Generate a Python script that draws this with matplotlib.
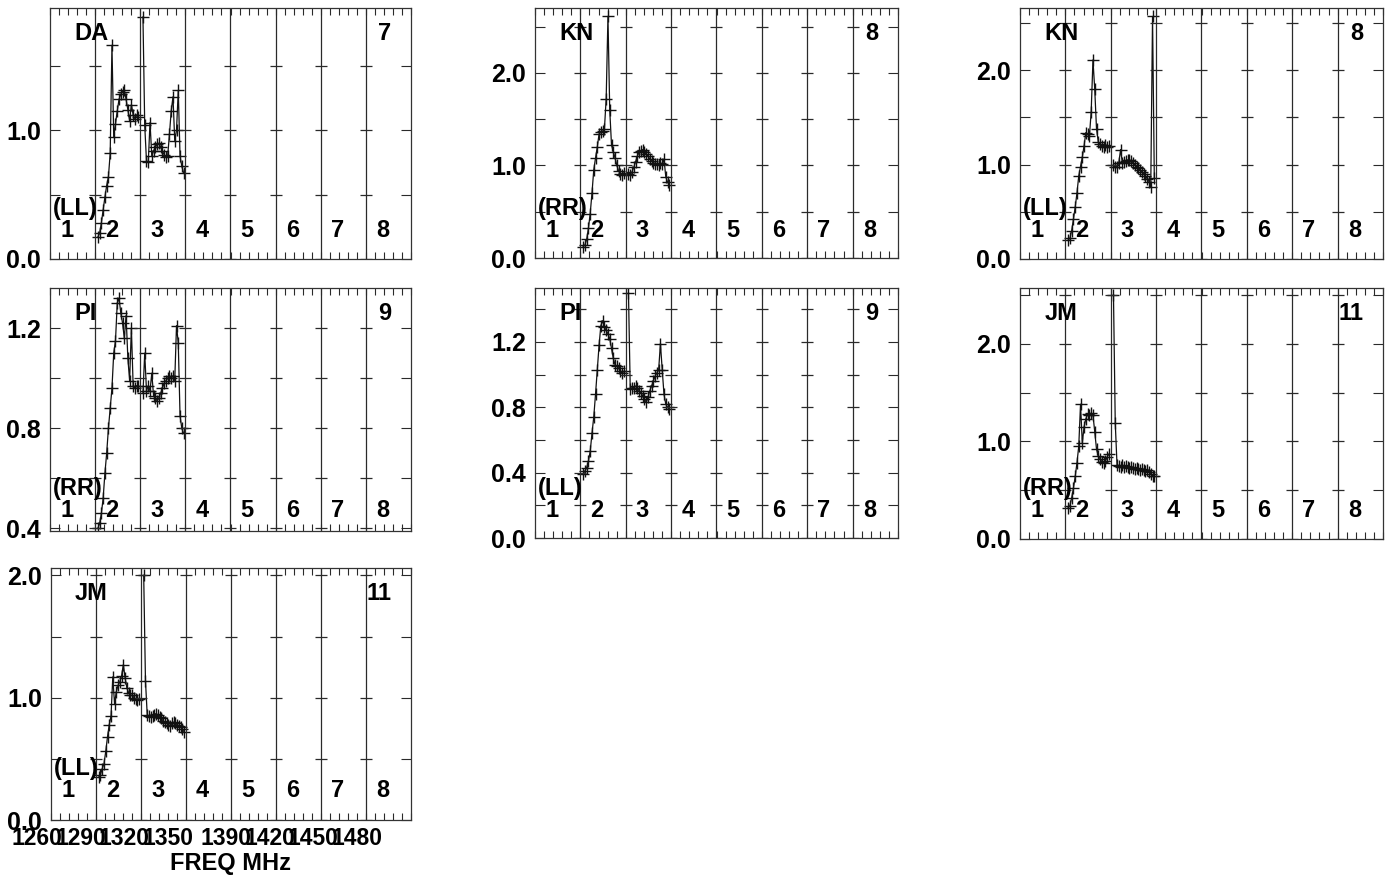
import matplotlib.pyplot as plt
import numpy as np

plt.rcParams['font.family'] = ['Liberation Sans', 'DejaVu Sans']
plt.rcParams['font.weight'] = 'bold'

# frequency axis: 8 IFs of 31 MHz, only IF 2 and IF 3 carry data
FREQ_LO = 1269.5
IF_WIDTH = 31.0
N_IF = 8
freq_labels = [1260, 1290, 1320, 1350, 1390, 1420, 1450, 1480]

stations = ['DA', 'KN', 'KN', 'PI', 'PI', 'JM', 'JM']
pols = ['(LL)', '(RR)', '(LL)', '(RR)', '(LL)', '(RR)', '(LL)']
plot_nums = ['7', '8', '8', '9', '9', '11', '11']

# bandpass amplitudes, 24 channels per IF
if2_amp = [
    [0.17, 0.20, 0.28, 0.38, 0.48, 0.57, 0.64, 0.82, 1.66, 0.95, 1.05, 1.15,
     1.24, 1.28, 1.30, 1.31, 1.24, 1.16, 1.07, 1.20, 1.12, 1.09, 1.12, 1.10],
    [0.12, 0.14, 0.20, 0.32, 0.48, 0.70, 0.95, 1.08, 1.20, 1.34, 1.36, 1.37,
     1.39, 1.72, 2.61, 1.60, 1.22, 1.15, 1.08, 1.00, 0.94, 0.91, 0.90, 0.92],
    [0.20, 0.22, 0.30, 0.42, 0.55, 0.70, 0.88, 0.98, 1.08, 1.20, 1.34, 1.32,
     1.30, 1.56, 2.11, 1.80, 1.38, 1.24, 1.22, 1.20, 1.19, 1.21, 1.19, 1.20],
    [0.40, 0.42, 0.46, 0.52, 0.62, 0.70, 0.80, 0.88, 0.96, 1.10, 1.15, 1.30,
     1.32, 1.26, 1.22, 1.16, 1.25, 1.08, 0.99, 1.20, 0.97, 0.96, 0.97, 0.97],
    [0.39, 0.41, 0.43, 0.47, 0.53, 0.64, 0.74, 0.88, 1.03, 1.18, 1.30, 1.33,
     1.29, 1.27, 1.25, 1.22, 1.16, 1.10, 1.06, 1.05, 1.04, 1.02, 1.01, 1.02],
    [0.32, 0.34, 0.42, 0.52, 0.64, 0.78, 0.95, 1.38, 0.98, 1.15, 1.23, 1.28,
     1.27, 1.29, 1.27, 1.10, 0.92, 0.85, 0.82, 0.79, 0.78, 0.80, 0.84, 0.87],
    [0.35, 0.37, 0.42, 0.46, 0.56, 0.68, 0.78, 0.85, 1.17, 0.95, 1.05, 1.10,
     1.13, 1.18, 1.27, 1.16, 1.08, 1.04, 1.02, 1.02, 1.00, 0.99, 0.98, 0.99],
]
if3_amp = [
    [1.88, 1.04, 0.76, 0.75, 1.06, 0.80, 0.84, 0.87, 0.89, 0.90, 0.87, 0.84,
     0.81, 0.79, 0.80, 0.97, 1.15, 1.26, 0.92, 1.00, 1.31, 0.80, 0.72, 0.67],
    [0.91, 0.90, 0.93, 0.98, 1.04, 1.10, 1.14, 1.16, 1.17, 1.15, 1.12, 1.10,
     1.07, 1.05, 1.03, 1.02, 1.01, 1.00, 1.03, 1.01, 1.07, 0.88, 0.82, 0.79],
    [1.00, 0.97, 0.98, 1.02, 1.16, 1.02, 1.03, 1.04, 1.05, 1.05, 1.04, 1.02,
     1.00, 0.98, 0.96, 0.94, 0.92, 0.90, 0.88, 0.85, 0.82, 0.76, 2.57, 0.86],
    [0.94, 1.10, 0.95, 0.97, 0.95, 1.02, 0.93, 0.92, 0.91, 0.92, 0.94, 0.96,
     0.98, 0.99, 1.00, 1.01, 1.00, 1.01, 0.99, 1.21, 1.14, 0.85, 0.80, 0.78],
    [1.50, 0.91, 0.92, 0.92, 0.93, 0.92, 0.90, 0.89, 0.87, 0.85, 0.83, 0.86,
     0.90, 0.93, 0.96, 0.99, 1.01, 1.03, 1.19, 1.03, 0.88, 0.82, 0.80, 0.79],
    [2.50, 1.19, 0.76, 0.75, 0.74, 0.76, 0.74, 0.75, 0.74, 0.73, 0.74, 0.73,
     0.72, 0.73, 0.72, 0.71, 0.72, 0.71, 0.70, 0.71, 0.69, 0.67, 0.65, 0.64],
    [2.00, 1.14, 0.86, 0.85, 0.84, 0.85, 0.86, 0.87, 0.86, 0.84, 0.83, 0.81,
     0.80, 0.79, 0.78, 0.77, 0.79, 0.80, 0.79, 0.78, 0.77, 0.76, 0.74, 0.72],
]

# panel frames in pixels (left, top, right, bottom) and y axis setup
frames = [(50, 8, 411, 259), (535, 8, 898, 258), (1020, 8, 1383, 259),
          (50, 288, 411, 531), (535, 288, 898, 538), (1020, 288, 1383, 539),
          (51, 568, 411, 820)]
ylims = [(0, 1.95), (0, 2.70), (0, 2.66), (0.39, 1.36), (0, 1.53), (0, 2.57), (0, 2.06)]
ysteps = [(0.5, 1.0), (0.5, 1.0), (0.5, 1.0), (0.2, 0.4), (0.2, 0.4), (0.5, 1.0), (0.5, 1.0)]

W, H = 1390, 875
fig = plt.figure(figsize=(W / 100, H / 100), dpi=100)

chan_frac = np.linspace(0.06, 0.96, 24)
edges = FREQ_LO + IF_WIDTH * np.arange(1, N_IF)
line_col = '#111111'

for k in range(len(stations)):
    l, t, r, b = frames[k]
    ax = fig.add_axes([l / W, 1 - b / H, (r - l) / W, (b - t) / H])

    for i, amps in ((1, if2_amp[k]), (2, if3_amp[k])):
        f = FREQ_LO + (i + chan_frac) * IF_WIDTH
        ax.plot(f, amps, color=line_col, lw=0.9, marker='+', ms=8, mew=1.0)

    ax.set_xlim(FREQ_LO, FREQ_LO + N_IF * IF_WIDTH)
    ax.set_ylim(*ylims[k])

    for e in edges:
        ax.axvline(e, color='#2a2a2a', lw=0.9)

    step, lstep = ysteps[k]
    n0 = int(round(np.ceil(ylims[k][0] / step - 1e-6)))
    n1 = int(np.floor(ylims[k][1] / step + 1e-6))
    yt = [round(n * step, 2) + 0.0 for n in range(n0, n1 + 1)]
    ax.set_yticks(yt)
    ax.set_yticklabels(['%.1f' % v if abs(v / lstep - round(v / lstep)) < 1e-6 else ''
                        for v in yt])
    for v in yt:
        ax.plot(edges, np.full(len(edges), v), ls='none', marker='_', ms=9,
                mew=0.9, color='#2a2a2a')

    ax.set_xticks(np.arange(FREQ_LO, FREQ_LO + N_IF * IF_WIDTH + 0.01, IF_WIDTH / 5))
    ax.set_xticklabels([])
    ax.tick_params(axis='x', direction='in', length=5, width=0.8, top=True,
                   color='#2a2a2a')
    ax.tick_params(axis='y', direction='in', length=7, width=0.8, right=True,
                   labelsize=18, pad=6.5, color='#2a2a2a')
    for s in ax.spines.values():
        s.set_linewidth(0.9)
        s.set_color('#333333')

    # labels inside the frame
    ax.annotate(stations[k], xy=(0.067, 1), xycoords='axes fraction',
                xytext=(0, -18), textcoords='offset points',
                ha='left', va='center', fontsize=17)
    ax.annotate(plot_nums[k], xy=(0.945, 1), xycoords='axes fraction',
                xytext=(0, -18), textcoords='offset points',
                ha='right', va='center', fontsize=17)
    ax.annotate(pols[k], xy=(0.008, 1), xycoords='axes fraction',
                xytext=(0, -144), textcoords='offset points',
                ha='left', va='center', fontsize=17)
    for j in range(N_IF):
        ax.annotate(str(j + 1), xy=(FREQ_LO + (j + 0.37) * IF_WIDTH, 1),
                    xycoords=('data', 'axes fraction'),
                    xytext=(0, -160.5), textcoords='offset points',
                    ha='center', va='center', fontsize=17)

    if k == len(stations) - 1:
        for v in freq_labels:
            ax.annotate(str(v), xy=(v, 0), xycoords=('data', 'axes fraction'),
                        xytext=(0, -13), textcoords='offset points',
                        ha='center', va='center', fontsize=16.5,
                        annotation_clip=False)
        ax.annotate('FREQ MHz', xy=(0.5, 0), xycoords='axes fraction',
                    xytext=(0, -31), textcoords='offset points',
                    ha='center', va='center', fontsize=17)

fig.savefig('out.png', dpi=100)
